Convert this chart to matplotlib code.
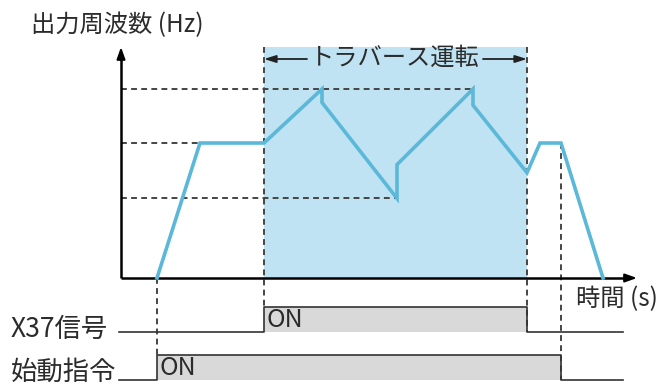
import matplotlib.pyplot as plt
from matplotlib.patches import Rectangle

plt.rcParams['font.family'] = ['Noto Sans CJK JP', 'DejaVu Sans']

# 出力周波数カーブ (time, Hz) -- arbitrary units
time = [7.2, 15.8, 28.6, 40.2, 40.2, 55.2, 55.2, 70.4, 70.4, 81.2, 83.8, 88.0, 96.4]
freq = [0, 50, 50, 70, 65, 29.5, 42, 70, 64, 39, 50, 50, 0]

f_high, f_mid, f_low = 70, 50, 29.5
t_high_end, t_mid_end, t_low_end = 70.4, 15.8, 55.2

traverse_on, traverse_off = 28.6, 81.2   # X37信号
start_on, start_off = 7.2, 88.0          # 始動指令

labels = ['X37信号', '始動指令']
title_y = '出力周波数 (Hz)'
title_x = '時間 (s)'
band_label = 'トラバース運転'

# layout: pixel -> data conversion
X0, Y0, SX, SY = 121, 278, 5.0, 2.7
W, H = 664, 391
def tx(px):
    return (px - X0) / SX
def ty(py):
    return (Y0 - py) / SY

fig = plt.figure(figsize=(W / 100, H / 100), dpi=100)
ax = fig.add_axes([0, 0, 1, 1])
ax.set_xlim(tx(0), tx(W))
ax.set_ylim(ty(H), ty(0))
ax.axis('off')

txt = '#2b2b2b'
fs = 17.5
dash = dict(color='#444444', lw=1.4, dashes=(3, 2.2))
f_top = ty(47)

# traverse band
ax.add_patch(Rectangle((traverse_on, 0), traverse_off - traverse_on, f_top,
                       facecolor='#bfe3f2', edgecolor='none', zorder=0))

# level guide lines
ax.plot([0, t_high_end], [f_high, f_high], **dash)
ax.plot([0, t_mid_end], [f_mid, f_mid], **dash)
ax.plot([0, t_low_end], [f_low, f_low], **dash)

# signal rows
x37_hi, x37_lo = ty(307), ty(332)
st_hi, st_lo = ty(355), ty(380)
t_end = tx(623)
t_lab = tx(119)

# vertical guide lines
ax.plot([traverse_on, traverse_on], [f_top, x37_hi], **dash)
ax.plot([traverse_off, traverse_off], [f_top, x37_lo], **dash)
ax.plot([start_on, start_on], [0, st_hi], **dash)
ax.plot([start_off, start_off], [f_mid, st_lo], **dash)

# axes with arrows
ax.plot([0, 0], [0, ty(58)], color='black', lw=1.8, solid_capstyle='butt')
ax.plot([0, tx(626)], [0, 0], color='black', lw=1.8, solid_capstyle='butt')
ax.annotate('', xy=(0, f_top), xytext=(0, ty(60)),
            arrowprops=dict(arrowstyle='-|>,head_length=0.7,head_width=0.25',
                            color='black', lw=1.5, shrinkA=0, shrinkB=0))
ax.annotate('', xy=(tx(637), 0), xytext=(tx(624), 0),
            arrowprops=dict(arrowstyle='-|>,head_length=0.7,head_width=0.25',
                            color='black', lw=1.5, shrinkA=0, shrinkB=0))

# frequency curve
ax.plot(time, freq, color='#5bb8d8', lw=2.6, solid_joinstyle='miter', zorder=5)

# traverse arrow label
arr = dict(arrowstyle='-|>,head_length=0.7,head_width=0.22', color='#222222',
           lw=1.3, shrinkA=0, shrinkB=0)
ax.annotate('', xy=(traverse_on, ty(59)), xytext=(tx(307), ty(59)), arrowprops=arr)
ax.annotate('', xy=(traverse_off, ty(59)), xytext=(tx(483), ty(59)), arrowprops=arr)
ax.text(tx(395), ty(58), band_label, ha='center', va='center', fontsize=fs, color=txt)

# signals
for hi, lo, t_on, t_off in [(x37_hi, x37_lo, traverse_on, traverse_off),
                            (st_hi, st_lo, start_on, start_off)]:
    ax.add_patch(Rectangle((t_on, lo), t_off - t_on, hi - lo,
                           facecolor='#d9d9d9', edgecolor='none', zorder=1))
    ax.plot([t_lab, t_on, t_on, t_off, t_off, t_end], [lo, lo, hi, hi, lo, lo],
            color='#333333', lw=1.2, zorder=2)
    ax.text(t_on + tx(123) - tx(121), (hi + lo) / 2 - 0.3, 'ON', ha='left',
            va='center', fontsize=18, color=txt, zorder=3)

ax.text(tx(11), ty(329), labels[0], ha='left', va='center', fontsize=19, color=txt)
ax.text(tx(11), ty(372), labels[1], ha='left', va='center', fontsize=19, color=txt)
ax.text(tx(31), ty(25), title_y, ha='left', va='center', fontsize=fs, color=txt)
ax.text(tx(576), ty(299), title_x, ha='left', va='center', fontsize=fs, color=txt)

fig.savefig('out.png', dpi=100)
